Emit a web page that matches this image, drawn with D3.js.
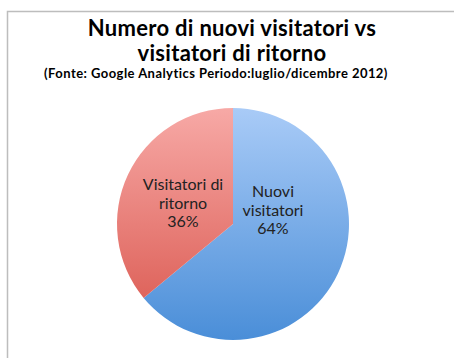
<!DOCTYPE html>
<html>
<head>
<meta charset="utf-8">
<script src="https://cdn.jsdelivr.net/npm/d3@7"></script>
<style>
  html, body { margin: 0; padding: 0; background: #fff; }
  svg { display: block; }
</style>
</head>
<body>
<svg id="chart" width="454" height="358"></svg>
<script>
// Visitor split, July–December 2012
const categories = ["Nuovi visitatori", "Visitatori di ritorno"];
const values = [64, 36];
const labelLines = [["Nuovi", "visitatori", "64%"], ["Visitatori di", "ritorno", "36%"]];
const titleLines = ["Numero di nuovi visitatori vs", "visitatori di ritorno"];
const subtitle = "(Fonte: Google Analytics Periodo:luglio/dicembre 2012)";

const svg = d3.select("#chart");
const W = 454, H = 358;

// frame
svg.append("path")
  .attr("d", `M7.5,${H} V11.5 H${W}`)
  .attr("fill", "none")
  .attr("stroke", "#bdbdbd")
  .attr("stroke-width", 1.5);

// title, one text element per line
svg.selectAll("text.title").data(titleLines).join("text")
  .attr("class", "title")
  .attr("x", 232)
  .attr("y", (d, i) => 36 + i * 25)
  .attr("text-anchor", "middle")
  .attr("font-family", "Lato, 'Open Sans', sans-serif")
  .attr("font-weight", "bold")
  .attr("font-size", 22)
  .attr("letter-spacing", 0.3)
  .attr("fill", "#000")
  .text(d => d);

svg.append("text")
  .attr("x", 216).attr("y", 78)
  .attr("text-anchor", "middle")
  .attr("font-family", "Lato, 'Open Sans', sans-serif")
  .attr("font-weight", "bold")
  .attr("font-size", 13)
  .attr("letter-spacing", 0.45)
  .attr("fill", "#000")
  .text(subtitle);

// pie
const cx = 233, cy = 224, r = 116;
const defs = svg.append("defs");
const gradStops = [
  ["#a9cbf7", "#4a8ed8"],
  ["#f7a9a6", "#d9554c"]
];
gradStops.forEach((s, i) => {
  const lg = defs.append("linearGradient")
    .attr("id", "grad" + i)
    .attr("gradientUnits", "userSpaceOnUse")
    .attr("x1", 0).attr("y1", -r)
    .attr("x2", 0).attr("y2", r);
  lg.append("stop").attr("offset", 0).attr("stop-color", s[0]);
  lg.append("stop").attr("offset", 1).attr("stop-color", s[1]);
});

const pie = d3.pie().sort(null).value(d => d)(values);
const arc = d3.arc().innerRadius(0).outerRadius(r);

const g = svg.append("g").attr("transform", `translate(${cx},${cy})`);
g.selectAll("path").data(pie).join("path")
  .attr("d", arc)
  .attr("fill", (d, i) => `url(#grad${i})`);

// slice labels
const labelPos = [[40, -27], [-50, -34]];
pie.forEach((d, i) => {
  const t = g.append("text")
    .attr("text-anchor", "middle")
    .attr("font-family", "Lato, 'Open Sans', sans-serif")
    .attr("font-size", 16)
    .attr("fill", "#222");
  t.selectAll("tspan").data(labelLines[i]).join("tspan")
    .attr("x", labelPos[i][0])
    .attr("y", (l, j) => labelPos[i][1] + j * 18.5)
    .text(l => l);
});
</script>
</body>
</html>
